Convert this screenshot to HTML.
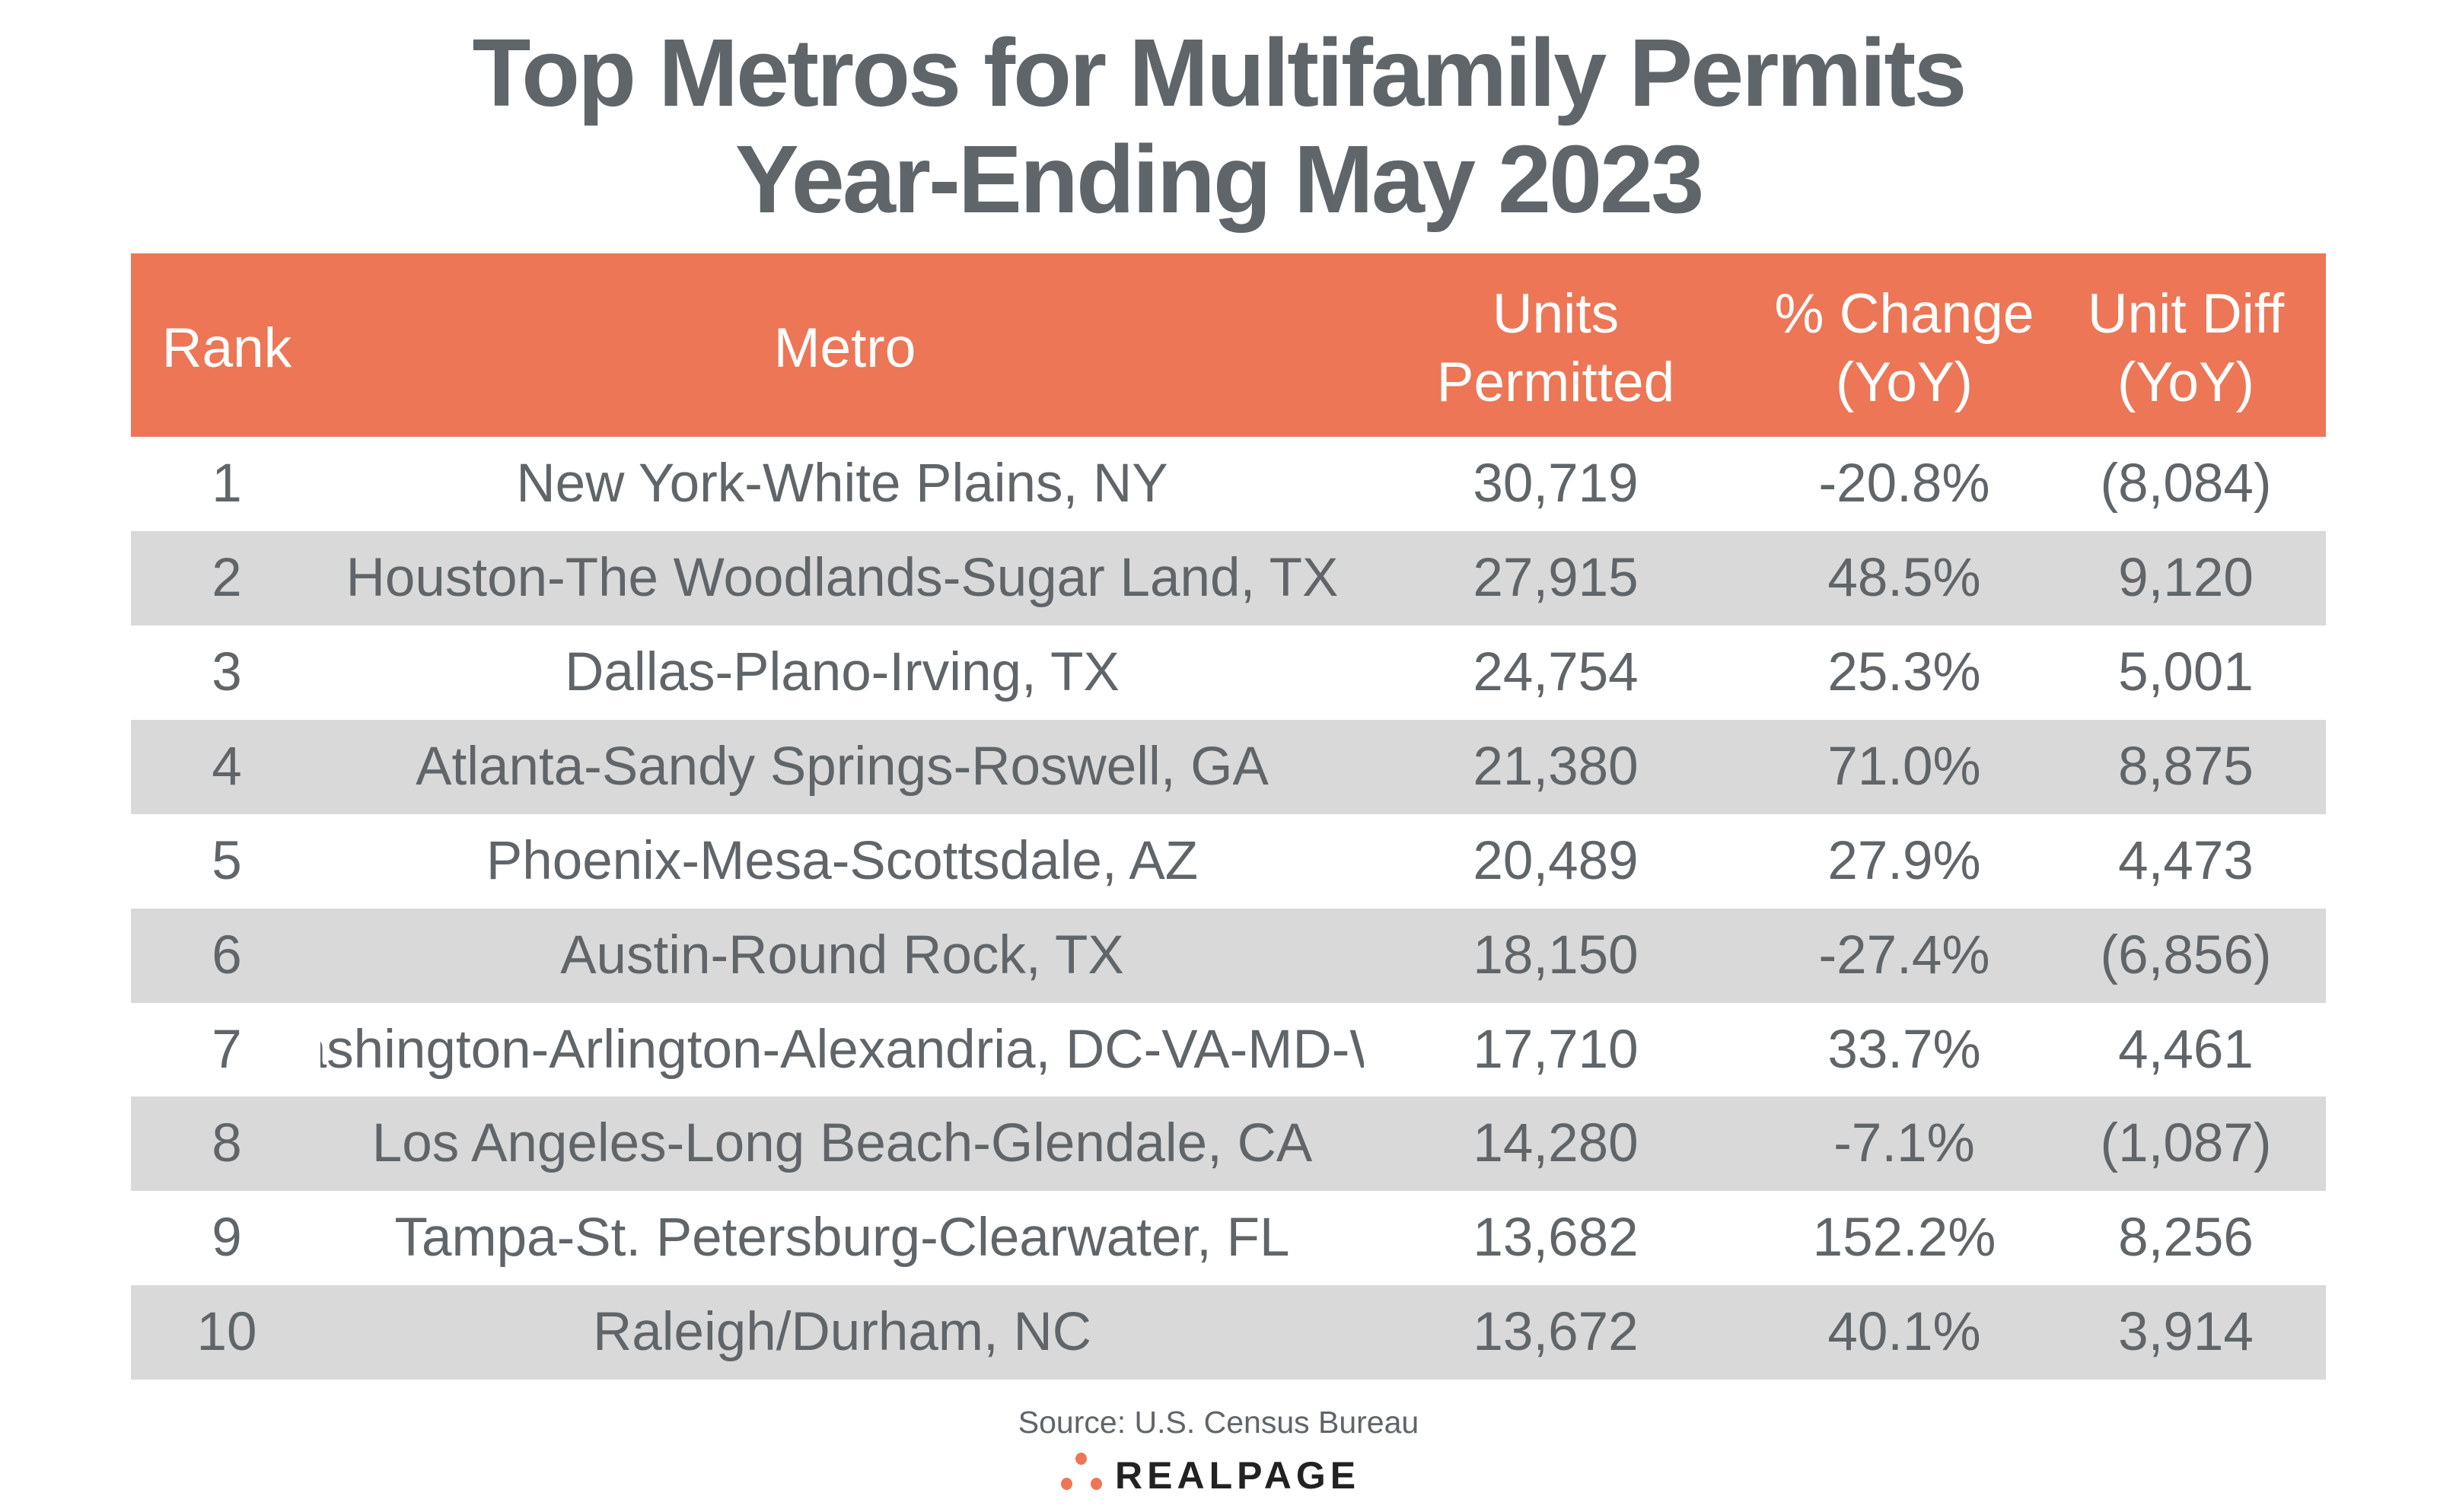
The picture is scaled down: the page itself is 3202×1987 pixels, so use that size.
<!DOCTYPE html>
<html><head><style>
html,body{margin:0;padding:0;background:#fff;}
body{width:3202px;height:1987px;position:relative;overflow:hidden;font-family:"Liberation Sans",sans-serif;color:#5f6569;}
.t{position:absolute;left:0;width:3202px;text-align:center;font-weight:bold;font-size:126px;letter-spacing:-3px;color:#5f6569;line-height:140px;}
.hdr{position:absolute;left:172px;top:333px;width:2884px;height:241px;background:#EC7656;}
.row{position:absolute;left:172px;width:2884px;height:124px;}
.g{background:#d9d9d9;}
.c{position:absolute;text-align:center;font-size:71px;line-height:124px;height:124px;white-space:nowrap;}
.m{position:absolute;left:421px;width:1371px;height:124px;display:flex;justify-content:center;overflow:hidden;font-size:71px;line-height:124px;white-space:nowrap;}
.h{position:absolute;text-align:center;font-size:73px;line-height:90px;color:#fff;white-space:nowrap;}
.dot{position:absolute;width:15px;height:16px;border-radius:50%;background:#EC7656;}
.r{left:198px;width:200px}.u{left:1844px;width:400px}.p{left:2302px;width:400px}.d{left:2672px;width:400px}
</style></head><body>
<div class="t" style="top:26px">Top Metros for Multifamily Permits</div>
<div class="t" style="top:166px">Year-Ending May 2023</div>
<div class="hdr"></div>
<div class="h r" style="top:413px">Rank</div>
<div class="h" style="left:810px;width:600px;top:413px">Metro</div>
<div class="h u" style="top:368px">Units<br>Permitted</div>
<div class="h" style="left:2282px;width:440px;top:368px">% Change<br>(YoY)</div>
<div class="h d" style="top:368px">Unit Diff<br>(YoY)</div>

<div class="row" style="top:574px"></div>
<div class="c r" style="top:574px">1</div>
<div class="m" style="top:574px"><span>New York-White Plains, NY</span></div>
<div class="c u" style="top:574px">30,719</div>
<div class="c p" style="top:574px">-20.8%</div>
<div class="c d" style="top:574px">(8,084)</div>

<div class="row g" style="top:698px"></div>
<div class="c r" style="top:698px">2</div>
<div class="m" style="top:698px"><span>Houston-The Woodlands-Sugar Land, TX</span></div>
<div class="c u" style="top:698px">27,915</div>
<div class="c p" style="top:698px">48.5%</div>
<div class="c d" style="top:698px">9,120</div>

<div class="row" style="top:822px"></div>
<div class="c r" style="top:822px">3</div>
<div class="m" style="top:822px"><span>Dallas-Plano-Irving, TX</span></div>
<div class="c u" style="top:822px">24,754</div>
<div class="c p" style="top:822px">25.3%</div>
<div class="c d" style="top:822px">5,001</div>

<div class="row g" style="top:946px"></div>
<div class="c r" style="top:946px">4</div>
<div class="m" style="top:946px"><span>Atlanta-Sandy Springs-Roswell, GA</span></div>
<div class="c u" style="top:946px">21,380</div>
<div class="c p" style="top:946px">71.0%</div>
<div class="c d" style="top:946px">8,875</div>

<div class="row" style="top:1070px"></div>
<div class="c r" style="top:1070px">5</div>
<div class="m" style="top:1070px"><span>Phoenix-Mesa-Scottsdale, AZ</span></div>
<div class="c u" style="top:1070px">20,489</div>
<div class="c p" style="top:1070px">27.9%</div>
<div class="c d" style="top:1070px">4,473</div>

<div class="row g" style="top:1194px"></div>
<div class="c r" style="top:1194px">6</div>
<div class="m" style="top:1194px"><span>Austin-Round Rock, TX</span></div>
<div class="c u" style="top:1194px">18,150</div>
<div class="c p" style="top:1194px">-27.4%</div>
<div class="c d" style="top:1194px">(6,856)</div>

<div class="row" style="top:1318px"></div>
<div class="c r" style="top:1318px">7</div>
<div class="m" style="top:1318px"><span>Washington-Arlington-Alexandria, DC-VA-MD-WV</span></div>
<div class="c u" style="top:1318px">17,710</div>
<div class="c p" style="top:1318px">33.7%</div>
<div class="c d" style="top:1318px">4,461</div>

<div class="row g" style="top:1441px"></div>
<div class="c r" style="top:1441px">8</div>
<div class="m" style="top:1441px"><span>Los Angeles-Long Beach-Glendale, CA</span></div>
<div class="c u" style="top:1441px">14,280</div>
<div class="c p" style="top:1441px">-7.1%</div>
<div class="c d" style="top:1441px">(1,087)</div>

<div class="row" style="top:1565px"></div>
<div class="c r" style="top:1565px">9</div>
<div class="m" style="top:1565px"><span>Tampa-St. Petersburg-Clearwater, FL</span></div>
<div class="c u" style="top:1565px">13,682</div>
<div class="c p" style="top:1565px">152.2%</div>
<div class="c d" style="top:1565px">8,256</div>

<div class="row g" style="top:1689px"></div>
<div class="c r" style="top:1689px">10</div>
<div class="m" style="top:1689px"><span>Raleigh/Durham, NC</span></div>
<div class="c u" style="top:1689px">13,672</div>
<div class="c p" style="top:1689px">40.1%</div>
<div class="c d" style="top:1689px">3,914</div>

<div style="position:absolute;left:0;width:3202px;top:1844px;text-align:center;font-size:41px;line-height:50px;color:#5f6569">Source: U.S. Census Bureau</div>
<div class="dot" style="left:1413px;top:1909px"></div>
<div class="dot" style="left:1394px;top:1942px"></div>
<div class="dot" style="left:1433px;top:1942px"></div>
<div style="position:absolute;left:1465px;top:1916px;font-size:50px;line-height:46px;font-weight:bold;letter-spacing:6px;color:#222">REALPAGE</div>
</body></html>
